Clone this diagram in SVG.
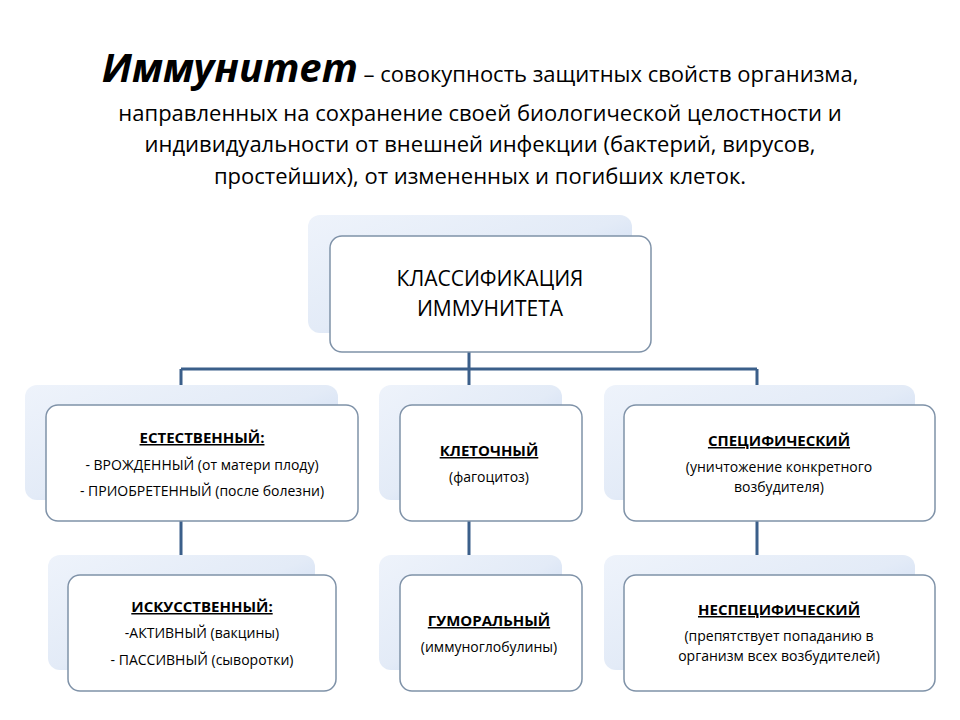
<svg xmlns="http://www.w3.org/2000/svg" width="960" height="720" viewBox="0 0 960 720">
<defs>
<linearGradient id="bg" x1="0" y1="0" x2="1" y2="1"><stop offset="0" stop-color="#eef3fb"/><stop offset="0.5" stop-color="#e3ebf7"/><stop offset="1" stop-color="#b9cdee"/></linearGradient>
<style>
.back{fill:url(#bg)}
.front{fill:#fff;stroke:#7f92a8;stroke-width:1.5}
text{font-family:"Open Sans","Liberation Sans",sans-serif;fill:#000;text-anchor:middle}
.h{font-weight:bold;text-decoration:underline;font-size:15px}
.t{font-size:14px}
.c{stroke:#3b5f8a;stroke-width:3;fill:none}
</style>
</defs>
<rect width="960" height="720" fill="#fff"/>
<g id="title">
<text x="480" y="82" style="font-size:22px"><tspan style="font-size:40px;font-weight:bold;font-style:italic">Иммунитет</tspan> – совокупность защитных свойств организма,</text>
<text x="480" y="121" style="font-size:22px">направленных на сохранение своей биологической целостности и</text>
<text x="480" y="152" style="font-size:22px">индивидуальности от внешней инфекции (бактерий, вирусов,</text>
<text x="480" y="184" style="font-size:22px">простейших), от измененных и погибших клеток.</text>
</g>
<g id="connectors">
<path class="c" d="M469 352V369M181 369H757M181 369V405M469 369V405M757 369V405M181 521V575M469 521V575M757 521V575"/>
</g>
<g id="root">
<rect class="back" x="308" y="215" width="324" height="118" rx="12"/>
<rect class="front" x="330" y="236" width="321" height="116" rx="12"/>
<text x="490" y="286" style="font-size:21px">КЛАССИФИКАЦИЯ</text>
<text x="490" y="316" style="font-size:21px">ИММУНИТЕТА</text>
</g>
<g id="natural">
<rect class="back" x="25" y="385" width="313" height="115" rx="12"/>
<rect class="front" x="46" y="405" width="312" height="116" rx="12"/>
<text class="h" x="202" y="443">ЕСТЕСТВЕННЫЙ:</text>
<text class="t" x="202" y="470">- ВРОЖДЕННЫЙ (от матери плоду)</text>
<text class="t" x="202" y="496">- ПРИОБРЕТЕННЫЙ (после болезни)</text>
</g>
<g id="cellular">
<rect class="back" x="379" y="385" width="183" height="115" rx="12"/>
<rect class="front" x="400" y="405" width="182" height="116" rx="12"/>
<text class="h" x="489" y="456">КЛЕТОЧНЫЙ</text>
<text class="t" x="489" y="482">(фагоцитоз)</text>
</g>
<g id="specific">
<rect class="back" x="604" y="385" width="311" height="115" rx="12"/>
<rect class="front" x="624" y="405" width="311" height="116" rx="12"/>
<text class="h" x="779" y="446">СПЕЦИФИЧЕСКИЙ</text>
<text class="t" x="779" y="472">(уничтожение конкретного</text>
<text class="t" x="779" y="492">возбудителя)</text>
</g>
<g id="artificial">
<rect class="back" x="48" y="555" width="267" height="115" rx="12"/>
<rect class="front" x="68" y="575" width="268" height="116" rx="12"/>
<text class="h" x="202" y="612">ИСКУССТВЕННЫЙ:</text>
<text class="t" x="202" y="638">-АКТИВНЫЙ (вакцины)</text>
<text class="t" x="202" y="665">- ПАССИВНЫЙ (сыворотки)</text>
</g>
<g id="humoral">
<rect class="back" x="379" y="555" width="183" height="115" rx="12"/>
<rect class="front" x="400" y="575" width="182" height="116" rx="12"/>
<text class="h" x="489" y="626">ГУМОРАЛЬНЫЙ</text>
<text class="t" x="489" y="652">(иммуноглобулины)</text>
</g>
<g id="nonspecific">
<rect class="back" x="604" y="555" width="311" height="115" rx="12"/>
<rect class="front" x="624" y="575" width="311" height="116" rx="12"/>
<text class="h" x="779" y="615">НЕСПЕЦИФИЧЕСКИЙ</text>
<text class="t" x="779" y="641">(препятствует попаданию в</text>
<text class="t" x="779" y="661">организм всех возбудителей)</text>
</g>
</svg>
